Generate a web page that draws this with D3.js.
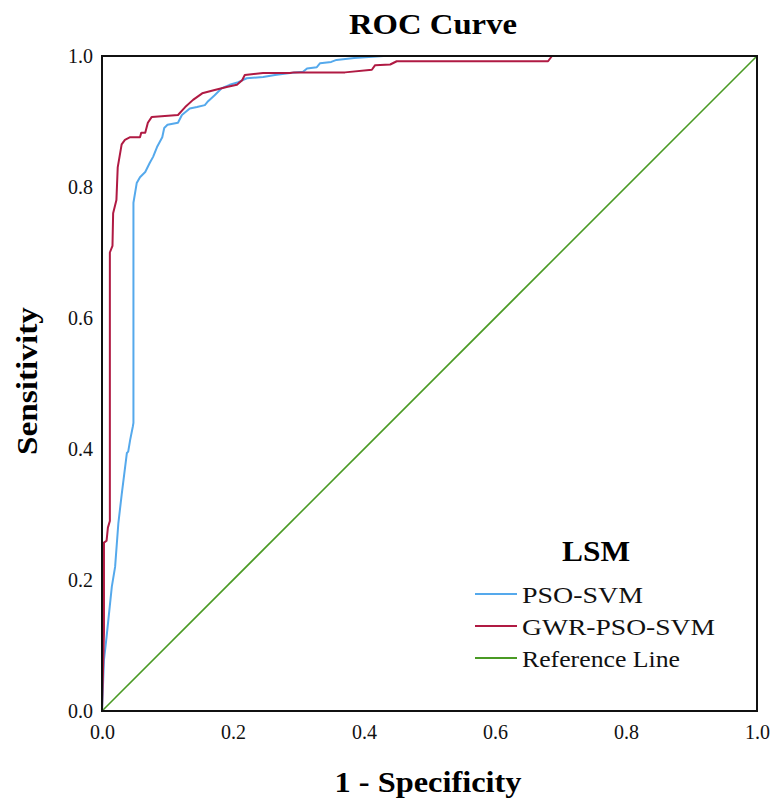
<!DOCTYPE html>
<html>
<head>
<meta charset="utf-8">
<script src="https://cdn.jsdelivr.net/npm/d3@7"></script>
<style>
  body { margin: 0; background: #fff; }
  svg text { font-family: serif; }
</style>
</head>
<body>
<div id="chart"></div>
<script>
// ROC points: false positive rate / true positive rate
const psoFpr = [0, 0.003, 0.007, 0.015, 0.020, 0.025, 0.030, 0.038, 0.040, 0.043, 0.047, 0.048, 0.048,
  0.053, 0.058, 0.066, 0.073, 0.078, 0.084, 0.092, 0.095, 0.100, 0.116, 0.122, 0.134, 0.145, 0.157,
  0.162, 0.172, 0.183, 0.195, 0.208, 0.221, 0.246, 0.264, 0.287, 0.307, 0.313, 0.328, 0.333, 0.350,
  0.358, 0.385, 0.430, 1.0];
const psoTpr = [0, 0.078, 0.113, 0.190, 0.220, 0.287, 0.330, 0.394, 0.396, 0.414, 0.434, 0.440, 0.776,
  0.806, 0.815, 0.823, 0.837, 0.846, 0.861, 0.876, 0.890, 0.895, 0.898, 0.910, 0.920, 0.922, 0.925,
  0.931, 0.940, 0.951, 0.956, 0.960, 0.966, 0.968, 0.971, 0.974, 0.976, 0.981, 0.983, 0.989, 0.991,
  0.994, 0.997, 1.0, 1.0];

const gwrFpr = [0, 0.003, 0.003, 0.007, 0.009, 0.012, 0.012, 0.016, 0.017, 0.022, 0.024, 0.030, 0.035,
  0.043, 0.058, 0.060, 0.066, 0.070, 0.076, 0.116, 0.127, 0.139, 0.153, 0.172, 0.192, 0.206, 0.214,
  0.218, 0.246, 0.287, 0.293, 0.371, 0.412, 0.417, 0.440, 0.450, 0.681, 0.687, 1.0];
const gwrTpr = [0, 0.120, 0.257, 0.260, 0.280, 0.290, 0.700, 0.710, 0.760, 0.780, 0.830, 0.865, 0.872,
  0.876, 0.876, 0.883, 0.883, 0.898, 0.907, 0.910, 0.922, 0.933, 0.943, 0.948, 0.953, 0.956, 0.963,
  0.971, 0.974, 0.974, 0.975, 0.975, 0.979, 0.986, 0.987, 0.992, 0.992, 1.0, 1.0];

const refFpr = [0, 1];
const refTpr = [0, 1];

const seriesNames = ['PSO-SVM', 'GWR-PSO-SVM', 'Reference Line'];
const seriesColors = ['#55a9ec', '#b01a43', '#4a9a24'];
const tickValues = [0, 0.2, 0.4, 0.6, 0.8, 1.0];

const width = 773;
const height = 805;
const plot = { left: 102, right: 757, top: 56, bottom: 711 };

const svg = d3.select('#chart')
  .append('svg')
  .attr('width', width)
  .attr('height', height);

svg.append('rect')
  .attr('width', width)
  .attr('height', height)
  .attr('fill', '#fff');

const x = d3.scaleLinear().domain([0, 1]).range([plot.left, plot.right]);
const y = d3.scaleLinear().domain([0, 1]).range([plot.bottom, plot.top]);

const line = d3.line()
  .x(d => x(d[0]))
  .y(d => y(d[1]));

const series = [
  d3.zip(psoFpr, psoTpr),
  d3.zip(gwrFpr, gwrTpr),
  d3.zip(refFpr, refTpr)
];

// reference line first, then the two models
[2, 0, 1].forEach(i => {
  svg.append('path')
    .datum(series[i])
    .attr('fill', 'none')
    .attr('stroke', seriesColors[i])
    .attr('stroke-width', i === 2 ? 1.6 : 2)
    .attr('stroke-linejoin', 'round')
    .attr('d', line);
});

svg.append('rect')
  .attr('x', plot.left)
  .attr('y', plot.top)
  .attr('width', plot.right - plot.left)
  .attr('height', plot.bottom - plot.top)
  .attr('fill', 'none')
  .attr('stroke', '#111')
  .attr('stroke-width', 2);

const xAxis = svg.append('g')
  .attr('transform', `translate(0,${plot.bottom})`)
  .call(d3.axisBottom(x).tickValues(tickValues).tickSize(0).tickPadding(14).tickFormat(d3.format('.1f')));
xAxis.select('.domain').remove();

const yAxis = svg.append('g')
  .attr('transform', `translate(${plot.left},0)`)
  .call(d3.axisLeft(y).tickValues(tickValues).tickSize(0).tickPadding(9).tickFormat(d3.format('.1f')));
yAxis.select('.domain').remove();

svg.selectAll('g').attr('font-family', 'serif');
svg.selectAll('.tick text')
  .attr('font-size', 20)
  .attr('fill', '#111');

svg.append('text')
  .attr('x', 433)
  .attr('y', 34)
  .attr('text-anchor', 'middle')
  .attr('font-size', 29)
  .attr('font-weight', 'bold')
  .attr('textLength', 168)
  .attr('lengthAdjust', 'spacingAndGlyphs')
  .text('ROC Curve');

svg.append('text')
  .attr('x', 428)
  .attr('y', 792)
  .attr('text-anchor', 'middle')
  .attr('font-size', 29)
  .attr('font-weight', 'bold')
  .attr('textLength', 187)
  .attr('lengthAdjust', 'spacingAndGlyphs')
  .text('1 - Specificity');

svg.append('text')
  .attr('transform', 'translate(37,381) rotate(-90)')
  .attr('text-anchor', 'middle')
  .attr('font-size', 29)
  .attr('font-weight', 'bold')
  .attr('textLength', 148)
  .attr('lengthAdjust', 'spacingAndGlyphs')
  .text('Sensitivity');

const legend = svg.append('g');

legend.append('text')
  .attr('x', 596)
  .attr('y', 561)
  .attr('text-anchor', 'middle')
  .attr('font-size', 29)
  .attr('font-weight', 'bold')
  .attr('textLength', 68)
  .attr('lengthAdjust', 'spacingAndGlyphs')
  .text('LSM');

const legendText = [121, 193, 158];
seriesNames.forEach((name, i) => {
  const row = legend.append('g')
    .attr('transform', `translate(475, ${594 + i * 32})`);
  row.append('line')
    .attr('x1', 0)
    .attr('x2', 42)
    .attr('stroke', seriesColors[i])
    .attr('stroke-width', 2);
  row.append('text')
    .attr('x', 47)
    .attr('y', 9)
    .attr('font-size', 24)
    .attr('fill', '#111')
    .attr('textLength', legendText[i])
    .attr('lengthAdjust', 'spacingAndGlyphs')
    .text(name);
});
</script>
</body>
</html>
